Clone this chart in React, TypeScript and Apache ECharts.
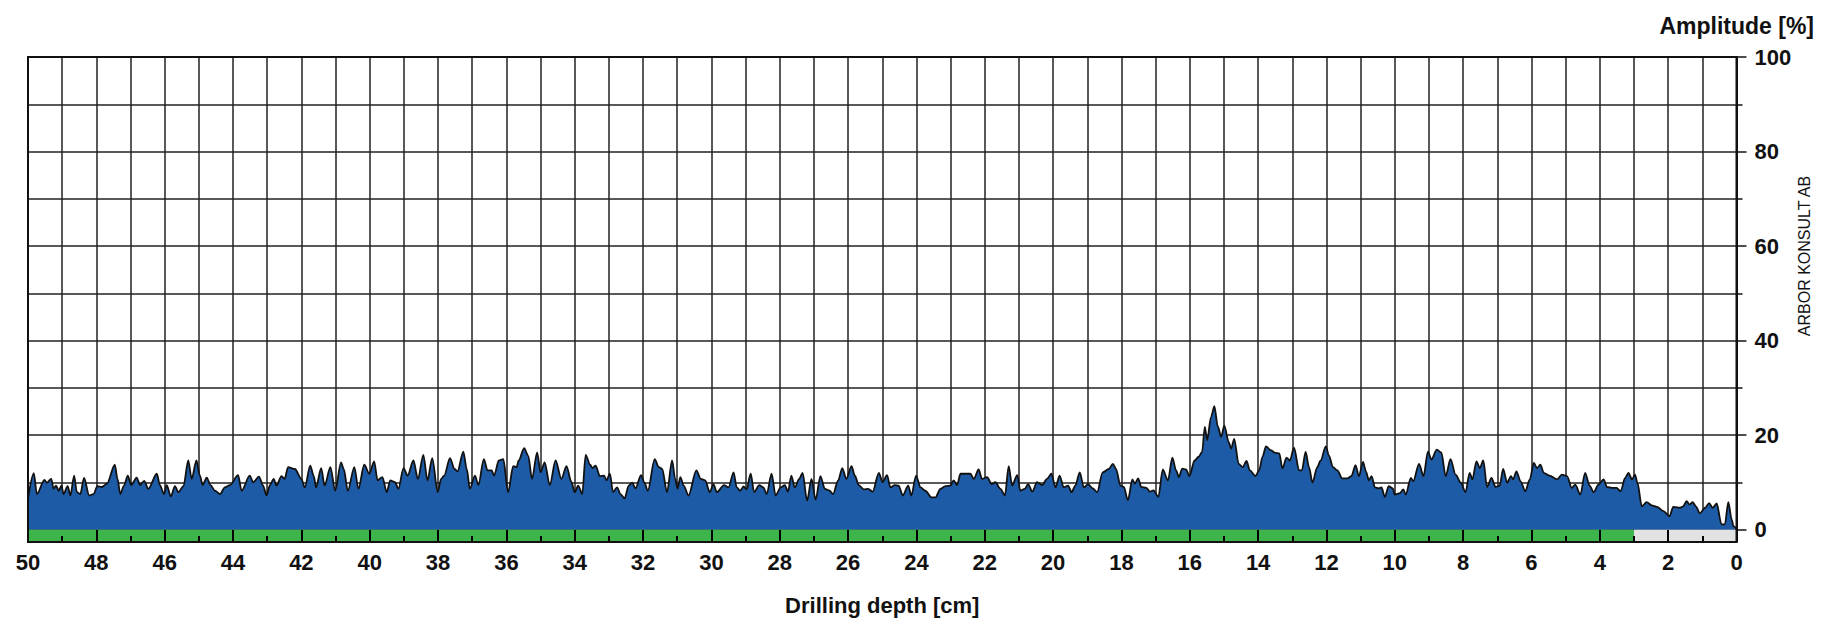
import React, { useEffect, useRef } from "react";
import * as echarts from "echarts";

// ---- data ----
const depthCm: number[] = [
  50.0, 49.83, 49.74, 49.52, 49.45, 49.32, 49.25, 49.18, 49.1, 49.02, 48.96, 48.84, 48.76, 48.65, 48.57, 48.47,
  48.36, 48.21, 48.08, 47.97, 47.84, 47.69, 47.46, 47.38, 47.3, 47.19, 47.08, 46.98, 46.82, 46.72, 46.6, 46.48,
  46.23, 46.14, 46.02, 45.94, 45.82, 45.7, 45.6, 45.45, 45.31, 45.21, 45.07, 44.97, 44.89, 44.77, 44.66, 44.53,
  44.38, 44.24, 44.09, 43.85, 43.75, 43.51, 43.41, 43.24, 43.12, 43.02, 42.92, 42.81, 42.73, 42.58, 42.49, 42.39,
  42.19, 42.0, 41.9, 41.74, 41.64, 41.57, 41.42, 41.32, 41.15, 41.01, 40.84, 40.76, 40.64, 40.45, 40.33, 40.16,
  40.01, 39.87, 39.77, 39.63, 39.5, 39.4, 39.26, 39.16, 39.01, 38.89, 38.72, 38.59, 38.43, 38.31, 38.17, 38.01,
  37.91, 37.82, 37.65, 37.52, 37.43, 37.26, 37.16, 37.07, 36.92, 36.82, 36.66, 36.55, 36.43, 36.36, 36.22, 36.09,
  35.95, 35.8, 35.7, 35.64, 35.48, 35.36, 35.25, 35.1, 35.0, 34.88, 34.73, 34.56, 34.39, 34.24, 34.1,
  34.0, 33.9, 33.78, 33.68, 33.55, 33.48, 33.39, 33.26, 33.14, 33.07, 32.97, 32.88, 32.76, 32.66, 32.54, 32.42,
  32.32, 32.22, 32.06, 31.96, 31.86, 31.66, 31.54, 31.44, 31.3, 31.15, 31.06, 30.99, 30.91, 30.81, 30.67, 30.44,
  30.31, 30.18, 30.05, 29.94, 29.84, 29.63, 29.5, 29.35, 29.26, 29.16, 29.06, 28.97, 28.85, 28.75, 28.6, 28.48,
  28.38, 28.24, 28.12, 27.97, 27.85, 27.76, 27.66, 27.56, 27.43, 27.33, 27.2, 27.07, 26.95, 26.81, 26.68, 26.54,
  26.44, 26.29, 26.17, 26.05,
  25.9, 25.8, 25.69, 25.54, 25.41, 25.28, 25.1, 24.99, 24.86, 24.76, 24.63, 24.52, 24.4, 24.24, 24.15, 24.01,
  23.88, 23.74, 23.56, 23.44, 23.3, 23.15, 23.0, 22.91, 22.81, 22.71, 22.57, 22.42, 22.32, 22.18, 22.08, 21.93,
  21.8, 21.69, 21.54, 21.41, 21.3, 21.2, 21.05, 20.96, 20.83, 20.73, 20.61, 20.47, 20.32, 20.18, 20.05, 19.93,
  19.81, 19.69, 19.56, 19.46, 19.35, 19.22, 19.1, 18.98, 18.84, 18.71, 18.55, 18.37, 18.25, 18.16, 18.03,
  17.93, 17.81, 17.68, 17.61, 17.51, 17.42, 17.27, 17.17, 17.06, 16.92, 16.79, 16.64, 16.51, 16.4, 16.32, 16.22,
  16.11, 16.01, 15.86, 15.74, 15.64, 15.56, 15.49, 15.38, 15.28, 15.18, 15.08, 14.99, 14.86, 14.79, 14.7, 14.57,
  14.45, 14.34, 14.24, 14.08, 13.97, 13.87, 13.77, 13.63, 13.5, 13.38, 13.29, 13.17, 13.07, 12.95, 12.8, 12.72,
  12.61, 12.51, 12.41, 12.27, 12.17, 12.02, 11.93, 11.81, 11.68, 11.54, 11.39, 11.27, 11.15, 11.05, 10.93, 10.84,
  10.76, 10.68, 10.58, 10.47, 10.39, 10.29, 10.18, 10.06,
  10.0, 9.85, 9.75, 9.68, 9.53, 9.46, 9.29, 9.16, 9.03, 8.93, 8.77, 8.64, 8.51, 8.37, 8.22, 8.07,
  7.93, 7.81, 7.73, 7.61, 7.51, 7.41, 7.3, 7.17, 7.05, 6.93, 6.83, 6.71, 6.6, 6.54, 6.44, 6.32,
  6.18, 6.05, 5.93, 5.84, 5.74, 5.64, 5.47, 5.25, 5.11, 4.96, 4.82, 4.72, 4.57, 4.43, 4.3, 4.18,
  4.04, 3.89, 3.79, 3.65, 3.51, 3.39, 3.26, 3.16, 3.06, 2.97, 2.9, 2.77, 2.63, 2.48, 2.33, 2.14,
  1.96, 1.85, 1.65, 1.56, 1.46, 1.38, 1.28, 1.19, 1.07, 0.92, 0.8, 0.7, 0.58, 0.44, 0.34, 0.24,
  0.14, 0.09, 0.0,
];

const amplitudePct: number[] = [
  6.5, 11.9, 7.5, 10.5, 9.9, 10.7, 8.6, 9.3, 8.2, 9.3, 7.5, 9.2, 7.2, 11.4, 7.9, 7.5,
  10.9, 7.2, 7.5, 9.2, 9.0, 9.7, 13.7, 10.7, 7.5, 9.3, 11.4, 9.4, 11.0, 9.4, 10.3, 8.6,
  11.8, 9.4, 7.5, 9.4, 7.0, 9.2, 7.9, 9.2, 14.6, 10.7, 14.6, 11.4, 9.4, 11.0, 9.4, 8.2,
  7.5, 8.9, 9.4, 11.5, 8.2, 11.4, 10.0, 11.2, 9.3, 7.2, 9.4, 10.7, 9.3, 11.3, 10.7, 13.2,
  12.8, 10.7, 8.9, 13.5, 11.4, 8.9, 13.0, 9.3, 13.2, 8.2, 14.2, 12.8, 8.2, 13.2, 8.6, 13.7,
  11.8, 14.4, 10.4, 11.1, 7.9, 10.4, 10.0, 8.6, 13.0, 11.4, 14.6, 10.7, 15.8, 10.4, 15.1, 7.9,
  10.7, 11.4, 15.1, 12.8, 12.3, 16.5, 12.8, 8.6, 11.4, 9.4, 14.9, 12.5, 12.5, 11.4, 14.6, 14.9,
  7.9, 13.4, 13.2, 14.6, 17.2, 15.6, 10.7, 16.3, 12.1, 14.2, 9.4, 14.6, 10.7, 13.4, 10.1,
  7.9, 9.3, 7.5, 15.8, 13.7, 13.0, 13.5, 11.3, 11.4, 10.4, 11.8, 7.9, 8.9, 7.5, 6.6, 9.3,
  9.9, 8.7, 11.5, 9.9, 8.2, 14.9, 13.2, 12.8, 7.9, 14.6, 10.7, 8.6, 11.1, 9.3, 7.2, 12.5,
  10.7, 10.4, 7.9, 9.6, 7.9, 9.4, 8.9, 12.1, 8.9, 8.2, 9.1, 8.5, 11.8, 7.9, 9.4, 8.9,
  7.5, 11.8, 7.2, 8.9, 9.4, 8.0, 11.4, 8.9, 10.7, 12.0, 6.1, 10.7, 6.3, 11.3, 8.6, 8.2,
  7.5, 10.4, 13.0, 10.7,
  13.4, 11.4, 9.4, 8.5, 8.6, 8.0, 12.0, 10.0, 11.5, 8.9, 9.4, 9.3, 7.2, 9.3, 7.2, 11.4,
  8.9, 8.2, 6.8, 6.8, 8.6, 9.2, 9.3, 10.4, 9.4, 11.8, 11.8, 11.8, 10.7, 12.7, 10.7, 11.1,
  9.6, 10.0, 8.6, 7.2, 13.4, 9.3, 11.5, 8.2, 8.6, 9.6, 8.0, 10.0, 9.4, 10.7, 11.8, 8.9,
  11.4, 8.9, 9.3, 7.9, 9.3, 12.1, 8.9, 9.6, 8.7, 7.9, 12.1, 12.8, 13.9, 12.8, 9.3,
  9.0, 6.2, 10.6, 9.7, 10.8, 9.0, 8.8, 8.0, 8.3, 6.9, 12.7, 10.4, 15.2, 12.5, 11.1, 12.9,
  12.7, 11.3, 14.6, 15.4, 16.4, 21.7, 18.9, 23.8, 26.1, 21.8, 19.6, 22.0, 18.5, 17.1, 19.2, 13.9,
  13.2, 14.5, 12.5, 11.3, 12.5, 15.4, 17.6, 16.8, 16.2, 16.1, 12.9, 15.2, 14.6, 17.3, 12.5, 12.5,
  16.4, 13.2, 9.9, 13.2, 14.6, 17.6, 15.7, 13.2, 12.5, 10.8, 10.8, 11.3, 13.6, 11.3, 14.3, 12.2,
  10.4, 11.3, 8.9, 8.7, 8.9, 6.9, 9.2, 8.7,
  7.4, 7.7, 8.5, 7.4, 10.9, 10.2, 13.9, 11.3, 16.5, 14.8, 16.9, 16.3, 11.3, 14.9, 11.6, 9.9,
  7.9, 12.0, 10.6, 14.4, 13.0, 14.6, 9.0, 10.9, 9.0, 9.3, 12.8, 9.9, 11.3, 10.6, 12.3, 10.2,
  8.1, 10.6, 14.1, 13.0, 13.7, 12.0, 11.4, 10.6, 11.6, 11.3, 8.8, 9.5, 7.4, 12.0, 9.3, 7.9,
  9.5, 10.6, 9.0, 8.8, 8.8, 8.1, 10.9, 12.0, 10.6, 11.6, 9.9, 4.9, 5.8, 5.1, 4.8, 3.9,
  2.8, 4.8, 4.6, 4.9, 6.0, 5.3, 5.8, 4.9, 3.4, 4.6, 5.6, 4.6, 5.5, 1.1, 1.1, 5.8,
  2.1, 0.7, 0.1,
];

// depth bands shown under the chart (from, to, kind)
const bandFrom: number[] = [50, 3];
const bandTo: number[] = [3, 0];
const bandKind: number[] = [0, 1]; // 0 = measured, 1 = not measured

const xTitle = "Drilling depth [cm]";
const yTitle = "Amplitude [%]";
const sideText = "ARBOR KONSULT AB";

// ---- styles / layout ----
const W = 1821;
const H = 621;
const PLOT_L = 28;
const PLOT_R = 1736.5;
const PLOT_T = 57;
const ZERO_Y = 529.5;
const BAND_B = 542;
const FONT = "'Liberation Sans', Arial, Helvetica, sans-serif";
const BLUE = "#1d5ba6";
const BAND_COLORS = ["#3db54a", "#e2e2e2"];
const INK = "#111111";
const GRID = "#222222";

export default function App() {
  const ref = useRef<HTMLDivElement>(null);

  useEffect(() => {
    document.body.style.margin = "0";
    document.body.style.overflow = "hidden";
    if (!ref.current) return;
    const chart = echarts.init(ref.current, null, { renderer: "svg" });

    const pairs = depthCm.map((d, i) => [d, amplitudePct[i]]);
    const bands = bandFrom.map((f, i) => [f, bandTo[i], bandKind[i]]);

    const option: any = {
      animation: false,
      backgroundColor: "#ffffff",
      textStyle: { fontFamily: FONT },
      grid: [
        { left: PLOT_L, right: W - PLOT_R, top: PLOT_T, height: ZERO_Y - PLOT_T, containLabel: false },
        { left: PLOT_L, right: W - PLOT_R, top: ZERO_Y, height: BAND_B - ZERO_Y, containLabel: false },
      ],
      xAxis: [
        {
          gridIndex: 0,
          type: "value",
          min: 0,
          max: 50,
          interval: 1,
          inverse: true,
          axisLine: { show: false, onZero: false },
          axisTick: { show: false },
          axisLabel: { show: false },
          splitLine: { show: true, lineStyle: { color: GRID, width: 1.5 } },
        },
        {
          gridIndex: 1,
          type: "value",
          position: "bottom",
          min: 0,
          max: 50,
          interval: 2,
          inverse: true,
          z: 10,
          axisLine: { show: true, onZero: false, lineStyle: { color: INK, width: 2 } },
          axisTick: { show: true, inside: true, length: 12, lineStyle: { color: "#000", width: 2 } },
          minorTick: { show: true, splitNumber: 2, length: 6, lineStyle: { color: "#000", width: 2 } },
          splitLine: { show: false },
          axisLabel: {
            show: true,
            fontSize: 22,
            fontWeight: "bold",
            color: INK,
            fontFamily: FONT,
            margin: 9,
          },
        },
      ],
      yAxis: [
        {
          gridIndex: 0,
          type: "value",
          position: "right",
          min: 0,
          max: 100,
          interval: 20,
          axisLine: { show: true, onZero: false, lineStyle: { color: INK, width: 2 } },
          axisTick: { show: true, length: 10, lineStyle: { color: INK, width: 1.5 } },
          minorTick: { show: true, splitNumber: 2, length: 6, lineStyle: { color: INK, width: 1.5 } },
          splitLine: { show: true, lineStyle: { color: GRID, width: 1.5 } },
          minorSplitLine: { show: true, lineStyle: { color: GRID, width: 1.5 } },
          axisLabel: {
            fontSize: 22,
            fontWeight: "bold",
            color: INK,
            fontFamily: FONT,
            margin: 18,
          },
        },
        { gridIndex: 1, type: "value", min: 0, max: 1, show: false },
      ],
      series: [
        {
          type: "line",
          xAxisIndex: 0,
          yAxisIndex: 0,
          data: pairs,
          showSymbol: false,
          symbol: "none",
          smooth: 0.3,
          smoothMonotone: "x",
          lineStyle: { color: INK, width: 1.8 },
          itemStyle: { color: BLUE },
          areaStyle: { color: BLUE, opacity: 1 },
          z: 3,
          silent: true,
        },
        {
          type: "custom",
          xAxisIndex: 1,
          yAxisIndex: 1,
          data: bands,
          encode: { x: [0, 1] },
          silent: true,
          z: 1,
          renderItem: (_params: any, api: any) => {
            const p1 = api.coord([api.value(0), 1]);
            const p2 = api.coord([api.value(1), 0]);
            return {
              type: "rect",
              shape: {
                x: Math.min(p1[0], p2[0]),
                y: p1[1],
                width: Math.abs(p2[0] - p1[0]),
                height: p2[1] - p1[1],
              },
              style: { fill: BAND_COLORS[api.value(2)] },
            };
          },
        },
      ],
      graphic: [
        {
          type: "rect",
          z: 100,
          silent: true,
          shape: { x: PLOT_L, y: PLOT_T, width: PLOT_R - PLOT_L, height: BAND_B - PLOT_T },
          style: { fill: "none", stroke: INK, lineWidth: 2 },
        },
        {
          type: "text",
          x: 1814,
          y: 26,
          z: 100,
          style: {
            text: yTitle,
            fill: INK,
            font: `bold 23px ${FONT}`,
            textAlign: "right",
            textVerticalAlign: "middle",
          },
        },
        {
          type: "text",
          x: (PLOT_L + PLOT_R) / 2,
          y: 605,
          z: 100,
          style: {
            text: xTitle,
            fill: INK,
            font: `bold 22px ${FONT}`,
            textAlign: "center",
            textVerticalAlign: "middle",
          },
        },
        {
          type: "text",
          x: 1804,
          y: 256,
          rotation: Math.PI / 2,
          z: 100,
          style: {
            text: sideText,
            fill: INK,
            font: `16px ${FONT}`,
            textAlign: "center",
            textVerticalAlign: "middle",
          },
        },
      ],
    };

    chart.setOption(option);
    return () => chart.dispose();
  }, []);

  return <div ref={ref} style={{ width: W, height: H }} />;
}
